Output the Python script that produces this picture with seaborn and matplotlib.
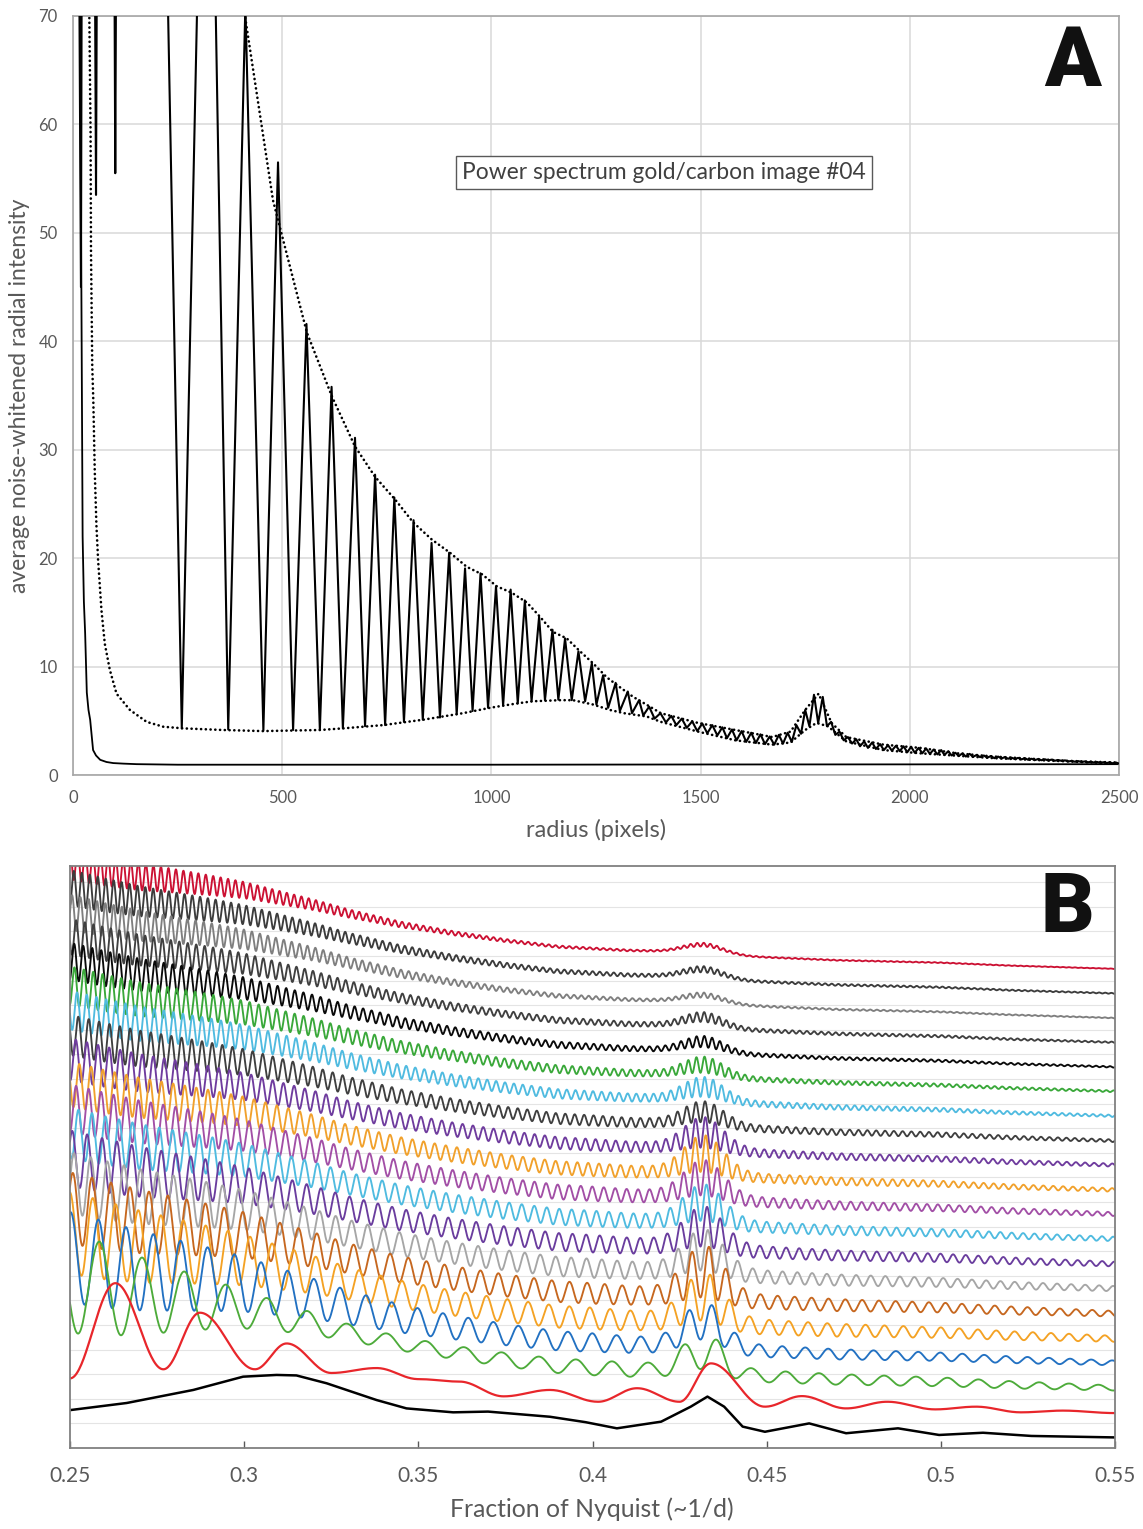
import numpy as np
import pandas as pd
import matplotlib
matplotlib.use("Agg")
import matplotlib.pyplot as plt
import seaborn as sns

# ---------------- Panel A data ----------------
MAIN_R = [12, 19, 22, 50, 55, 59, 97, 101, 105, 215, 260, 310, 330, 371, 412, 455, 490, 526, 558, 590,
          618, 645, 674, 698, 722, 746, 768, 791, 814, 836, 857, 877, 899, 917, 937, 955, 974, 992, 1011, 1028,
          1046, 1063, 1080, 1096, 1114, 1128, 1146, 1160, 1176, 1192, 1208, 1224, 1240, 1251, 1267, 1279, 1297,
          1307, 1326, 1336, 1353, 1363]
MAIN_V = [95, 45, 95, 95, 53.5, 95, 95, 55.5, 95, 95, 4.3, 95, 95, 4.2, 71, 4.1, 56.5, 4.15, 41.6, 4.15,
          35.8, 4.3, 31.1, 4.5, 27.7, 4.6, 25.6, 4.9, 23.5, 5.1, 21.4, 5.3, 20.5, 5.6, 19.05, 5.9, 18.6, 6.2, 17.4, 6.4,
          17.1, 6.6, 16.1, 6.8, 14.6, 6.9, 13.4, 6.95, 12.6, 6.9, 11.4, 6.8, 10.3, 6.5, 9.2, 6.2, 8.5,
          5.9, 7.7, 5.7, 6.9, 5.5]

TAIL_PEAK_R = [1377, 1404, 1430, 1455, 1480, 1504, 1528, 1552, 1575, 1598, 1621, 1643, 1665, 1687, 1708,
               1729, 1750, 1771, 1792, 1812, 1832, 1852, 1872, 1891, 1910, 1929, 1948, 1967, 1985, 2003,
               2021, 2039, 2057, 2075, 2092, 2109, 2126, 2143, 2160, 2177, 2194, 2211, 2227, 2243, 2259,
               2275, 2291, 2307, 2323, 2339, 2355, 2371, 2387, 2403, 2418, 2433, 2448, 2463, 2478, 2493]
TAIL_PEAK_V = [6.3, 5.7, 5.45, 5.2, 4.95, 4.75, 4.6, 4.4, 4.2, 4.05, 3.9, 3.75, 3.55, 3.7, 3.9,
               4.6, 6.0, 7.4, 7.2, 4.9, 4.0, 3.5, 3.3, 3.1, 3.0, 2.85, 2.75, 2.7, 2.65, 2.6,
               2.5, 2.45, 2.35, 2.3, 2.2, 2.05, 2.0, 1.95, 1.85, 1.8, 1.75, 1.7, 1.65, 1.6, 1.58,
               1.55, 1.5, 1.47, 1.45, 1.42, 1.38, 1.35, 1.3, 1.28, 1.25, 1.22, 1.2, 1.18, 1.17, 1.15]
TAIL_TROUGH_R = [1390, 1417, 1442, 1467, 1492, 1516, 1540, 1563, 1586, 1609, 1632, 1654, 1676, 1697, 1718,
                 1740, 1760, 1781, 1802, 1822, 1842, 1862, 1881, 1900, 1919, 1938, 1957, 1976, 1994, 2012,
                 2030, 2048, 2066, 2083, 2100, 2117, 2134, 2151, 2168, 2185, 2202, 2219, 2235, 2251, 2267,
                 2283, 2299, 2315, 2331, 2347, 2363, 2379, 2395, 2410, 2425, 2440, 2455, 2470, 2485, 2500]
TAIL_TROUGH_V = [5.2, 4.85, 4.6, 4.35, 4.05, 3.85, 3.65, 3.4, 3.2, 3.05, 2.95, 2.85, 2.8, 2.9, 3.05,
                 3.8, 4.5, 4.8, 4.5, 3.7, 3.2, 2.9, 2.65, 2.5, 2.4, 2.3, 2.25, 2.2, 2.1, 2.05,
                 2.0, 1.95, 1.9, 1.85, 1.8, 1.75, 1.7, 1.68, 1.65, 1.6, 1.55, 1.52, 1.5, 1.47, 1.44,
                 1.4, 1.38, 1.36, 1.34, 1.32, 1.3, 1.25, 1.22, 1.2, 1.17, 1.15, 1.12, 1.1, 1.08, 1.05]

UPPER_R = [400, 411, 478, 559, 619, 674, 722, 770, 813, 858, 901, 941, 978, 1013, 1049, 1085, 1116, 1147,
           1180, 1212, 1243, 1276, 1307, 1339, 1379, 1405, 1494, 1583, 1671, 1715, 1750, 1782, 1813, 1848,
           1937, 2025, 2113, 2202, 2290, 2379, 2494]
UPPER_V = [74, 70, 53, 40.8, 34.9, 30.3, 27.5, 25.4, 23.3, 21.7, 20.5, 19.2, 18.5, 17.4, 16.8, 15.9, 14.6, 13.2,
           12.6, 11.4, 10.3, 9.0, 8.1, 7.2, 6.3, 5.7, 4.8, 4.15, 3.5, 4.0, 6.0, 7.5, 4.8, 3.5,
           2.8, 2.5, 2.0, 1.7, 1.5, 1.3, 1.15]

LOWER_R = [38, 39, 42, 43, 46, 48.5, 52, 56, 60, 68, 76, 88, 104, 136, 176, 216, 264, 359, 454, 590, 645,
           741, 837, 932, 997, 1061, 1099, 1164, 1195, 1243, 1283, 1317, 1371, 1405, 1494, 1583, 1671, 1715,
           1750, 1777, 1804, 1848, 1937, 2025, 2202, 2379, 2494]
LOWER_V = [76, 70, 59.2, 48.4, 37.7, 34.6, 28, 23, 19.8, 15.2, 12.1, 9.7, 7.5, 6.0, 4.9, 4.45, 4.3, 4.15, 4.05,
           4.15, 4.3, 4.6, 5.1, 5.7, 6.2, 6.6, 6.8, 6.9, 6.9, 6.5, 6.0, 5.7, 5.4, 4.9, 4.0, 3.2, 2.8, 3.0,
           4.15, 4.8, 4.5, 3.1, 2.3, 2.0, 1.55, 1.25, 1.05]

FLAT_R = [16, 18, 20, 23, 26, 29, 33, 37, 41, 45, 48, 55, 65, 80, 96, 120, 152, 250, 500, 1000, 1500, 2000, 2500]
FLAT_V = [75, 60, 45, 22, 16, 13.1, 7.6, 6.0, 5.1, 3.5, 2.3, 1.8, 1.4, 1.2, 1.1, 1.05, 1.0, 0.95, 0.95, 0.95,
          0.97, 0.98, 1.0]

A_XTICKS = [0, 500, 1000, 1500, 2000, 2500]
A_YTICKS = [0, 10, 20, 30, 40, 50, 60, 70]

# ---------------- Panel B data ----------------
B_XTICKS = [0.25, 0.30, 0.35, 0.40, 0.45, 0.50, 0.55]
B_XTICKLABELS = ["0.25", "0.3", "0.35", "0.4", "0.45", "0.5", "0.55"]

B_COLORS = ["#000000", "#e8262b", "#4dab3a", "#2271c2", "#f4a224", "#c6671f", "#a6a6a6", "#6a3d9e",
            "#4fbbe0", "#a24fa6", "#f1a12c", "#6f3c9e", "#3f3f3f", "#50bbe0", "#3aa83a", "#0a0a0a",
            "#404040", "#7f7f7f", "#3c3c3c", "#cc1133"]
B_END = [0.43, 1.42, 2.44, 3.46, 4.44, 5.46, 6.48, 7.48, 8.50, 9.51, 10.49, 11.50, 12.49, 13.50, 14.50,
         15.49, 16.49, 17.48, 18.48, 19.48]

# bottom (black) trace, read point by point
BLACK_X = [0.25, 0.2663, 0.2854, 0.2997, 0.3093, 0.315, 0.3237, 0.338, 0.3466, 0.36, 0.37, 0.3878, 0.398,
           0.407, 0.4197, 0.4282, 0.433, 0.4378, 0.4431, 0.4495, 0.4622, 0.4728, 0.4877, 0.4995, 0.5121,
           0.526, 0.55]
BLACK_Y = [1.54, 1.83, 2.36, 2.9, 2.97, 2.95, 2.63, 1.95, 1.61, 1.45, 1.48, 1.27, 1.05, 0.8, 1.07, 1.68,
           2.09, 1.68, 0.87, 0.66, 1.0, 0.6, 0.8, 0.53, 0.62, 0.49, 0.43]

# red trace: successive maxima / minima
RED_X = [0.25, 0.263, 0.2768, 0.2873, 0.3031, 0.3122, 0.325, 0.338, 0.350, 0.3618, 0.3745, 0.3878, 0.4016,
         0.4128, 0.425, 0.434, 0.4495, 0.4601, 0.4728, 0.4846, 0.4984, 0.5101, 0.523, 0.535, 0.55]
RED_Y = [2.83, 6.7, 3.2, 5.5, 3.2, 4.25, 3.05, 3.25, 2.8, 2.7, 2.1, 2.36, 1.88, 2.43, 1.88, 3.44, 1.68,
         2.11, 1.61, 1.88, 1.57, 1.68, 1.45, 1.52, 1.42]

# common background profile (level above right-end value)
BASE_X = [0.25, 0.26, 0.27, 0.29, 0.30, 0.31, 0.32, 0.33, 0.345, 0.36, 0.375, 0.39, 0.41, 0.425, 0.445,
          0.47, 0.50, 0.52, 0.55]
BASE_Y = [4.3, 4.0, 3.75, 3.4, 3.2, 2.9, 2.6, 2.25, 1.8, 1.45, 1.15, 0.9, 0.75, 0.7, 0.5, 0.35, 0.25,
          0.13, 0.0]
# shape of the mid-range ring amplitude
MID_X = [0.25, 0.33, 0.37, 0.40, 0.45, 0.50, 0.55]
MID_Y = [0.3, 0.4, 0.8, 1.0, 0.8, 0.6, 0.35]
GOLD_RING = 0.432
GOLD_WIDTH = 0.0055

# traces 2..19 : ring amplitude / spacing
AMP_LEFT = [3.9, 3.5, 3.1, 2.7, 2.3, 2.1, 1.9, 1.8, 1.7, 1.6, 1.55, 1.5, 1.5, 1.45, 1.4, 1.4, 1.4, 1.3]
AMP_WIDTH = [0.048, 0.075, 0.075, 0.078, 0.08, 0.08, 0.08, 0.08, 0.08, 0.08, 0.08, 0.08, 0.078, 0.075,
             0.072, 0.07, 0.068, 0.064]
AMP_MID = [0.6, 0.55, 0.7, 0.65, 0.6, 0.55, 0.5, 0.45, 0.4, 0.35, 0.3, 0.25, 0.2, 0.15, 0.15, 0.08, 0.1, 0.05]
BUMP_OSC = [1.0, 1.0, 1.3, 1.5, 1.1, 1.1, 1.0, 1.0, 1.1, 0.9, 0.55, 0.55, 0.45, 0.3, 0.25, 0.12, 0.15, 0.1]
BUMP_MEAN = [0.9, 1.1, 1.1, 1.1, 0.95, 0.9, 0.85, 0.85, 0.85, 0.7, 0.55, 0.55, 0.45, 0.4, 0.4, 0.3, 0.35, 0.35]
SPACING_LEFT = [0.0125, 0.0080, 0.0066, 0.0055, 0.0048, 0.0043, 0.0039, 0.0036, 0.0034, 0.0032, 0.0030,
                0.0028, 0.0027, 0.0026, 0.0025, 0.0024, 0.0023, 0.0022]
SPACING_RIGHT = [0.0083, 0.0060, 0.0051, 0.0046, 0.0040, 0.0035, 0.0032, 0.0030, 0.0028, 0.0026, 0.0024,
                 0.0022, 0.0021, 0.0020, 0.0019, 0.0018, 0.00175, 0.0017]

# ---------------- style ----------------
sns.set_theme(style="white")
plt.rcParams["font.family"] = ["Lato", "DejaVu Sans"]
GRAY_TXT = "#595959"

W, H = 1143, 1529
fig = plt.figure(figsize=(W / 100, H / 100), dpi=100)
axA = fig.add_axes([73 / W, 1 - 775 / H, (1119 - 73) / W, (775 - 16) / H])
axB = fig.add_axes([70 / W, 1 - 1448 / H, (1115 - 70) / W, (1448 - 866) / H])


def draw(ax, x, y, color, lw, dotted=False, z=2):
    df = pd.DataFrame({"x": np.asarray(x, float), "y": np.asarray(y, float)})
    sns.lineplot(data=df, x="x", y="y", ax=ax, color=color, linewidth=lw,
                 estimator=None, sort=False, legend=False, zorder=z)
    ln = ax.lines[-1]
    if dotted:
        ln.set_linestyle((0, (0.05, 1.75)))
        ln.set_dash_capstyle("round")
    return ln


# ---------------- Panel A ----------------
tail = sorted(zip(TAIL_PEAK_R + TAIL_TROUGH_R, TAIL_PEAK_V + TAIL_TROUGH_V))
main_r = MAIN_R + [t[0] for t in tail]
main_v = MAIN_V + [t[1] for t in tail]

draw(axA, FLAT_R, FLAT_V, "black", 1.3)
draw(axA, UPPER_R, UPPER_V, "black", 1.9, dotted=True)
draw(axA, LOWER_R, LOWER_V, "black", 1.9, dotted=True)
draw(axA, main_r, main_v, "black", 1.5, z=3)

axA.set_xlim(0, 2500)
axA.set_ylim(0, 70)
axA.set_xticks(A_XTICKS)
axA.set_yticks(A_YTICKS)
axA.grid(True, color="#d9d9d9", linewidth=1.1)
axA.set_axisbelow(True)
for sp in axA.spines.values():
    sp.set_color("#a6a6a6")
    sp.set_linewidth(1.2)
axA.tick_params(axis="both", length=0, labelsize=12, colors=GRAY_TXT)
axA.tick_params(axis="x", pad=11)
axA.tick_params(axis="y", pad=11)
axA.set_xlabel("radius (pixels)", fontsize=17, color=GRAY_TXT)
axA.set_ylabel("average noise-whitened radial intensity", fontsize=16.5, color=GRAY_TXT)
axA.xaxis.set_label_coords(0.5, -0.058)
axA.yaxis.set_label_coords(-0.041, 0.5)
axA.text(0.565, 0.794, "Power spectrum gold/carbon image #04", transform=axA.transAxes,
         ha="center", va="center", fontsize=16.4, color="#404040",
         bbox=dict(boxstyle="square,pad=0.25", fc="white", ec="#595959", lw=1.0))

# ---------------- Panel B ----------------
xb = np.linspace(0.25, 0.55, 3001)
gold = np.exp(-0.5 * ((xb - GOLD_RING) / GOLD_WIDTH) ** 2)
base = np.interp(xb, BASE_X, BASE_Y)
mid = np.interp(xb, MID_X, MID_Y)
i_ref = np.argmin(np.abs(xb - 0.431))

traces = {}
for k, i in enumerate(range(2, 20)):
    s = SPACING_LEFT[k] + (SPACING_RIGHT[k] - SPACING_LEFT[k]) * (xb - 0.25) / 0.30
    ph = 2 * np.pi * np.concatenate([[0], np.cumsum(np.diff(xb) / (0.5 * (s[1:] + s[:-1])))])
    ph = ph - ph[i_ref] + np.pi
    amp = (AMP_LEFT[k] * np.exp(-((xb - 0.25) / AMP_WIDTH[k]) ** 1.5)
           + AMP_MID[k] * mid + BUMP_OSC[k] * gold)
    traces[i] = B_END[i] + base + BUMP_MEAN[k] * gold + 0.5 * amp * np.cos(ph)

# red: smooth half-cosine passage between successive extrema
rx, ry = [], []
for j in range(len(RED_X) - 1):
    t = np.linspace(0, 1, 40, endpoint=False)
    rx.extend(RED_X[j] + (RED_X[j + 1] - RED_X[j]) * t)
    ry.extend(RED_Y[j] + (RED_Y[j + 1] - RED_Y[j]) * (1 - np.cos(np.pi * t)) / 2)
rx.append(RED_X[-1]); ry.append(RED_Y[-1])

for i in range(19, 1, -1):
    draw(axB, xb, traces[i], B_COLORS[i], 1.35)
draw(axB, rx, ry, B_COLORS[1], 1.6)
draw(axB, BLACK_X, BLACK_Y, B_COLORS[0], 1.8)

axB.set_xlim(0.25, 0.55)
axB.set_ylim(0, 23.66)
axB.set_xticks(B_XTICKS)
axB.set_xticklabels(B_XTICKLABELS)
axB.set_yticks(np.arange(0, 24, 1))
axB.set_yticklabels([])
axB.yaxis.grid(True, color="#e4e4e4", linewidth=0.8)
axB.xaxis.grid(False)
axB.set_axisbelow(True)
for sp in axB.spines.values():
    sp.set_color("#808080")
    sp.set_linewidth(1.3)
axB.tick_params(axis="y", length=0)
axB.tick_params(axis="x", direction="in", length=5, width=1, color="#595959",
                labelsize=15, colors=GRAY_TXT, pad=13, bottom=True)
axB.set_xlabel("Fraction of Nyquist (~1/d)", fontsize=17.8, color=GRAY_TXT)
axB.set_ylabel("")
axB.xaxis.set_label_coords(0.4995, -0.085)

# panel letters
fig.text(1073 / W, 1 - 63 / H, "A", fontsize=60, fontweight="black", family=["Roboto", "DejaVu Sans"],
         ha="center", va="center", color="#111111")
fig.text(1067 / W, 1 - 910 / H, "B", fontsize=60, fontweight="black", family=["Roboto", "DejaVu Sans"],
         ha="center", va="center", color="#111111")

fig.savefig("out.png", dpi=100, facecolor="white")
